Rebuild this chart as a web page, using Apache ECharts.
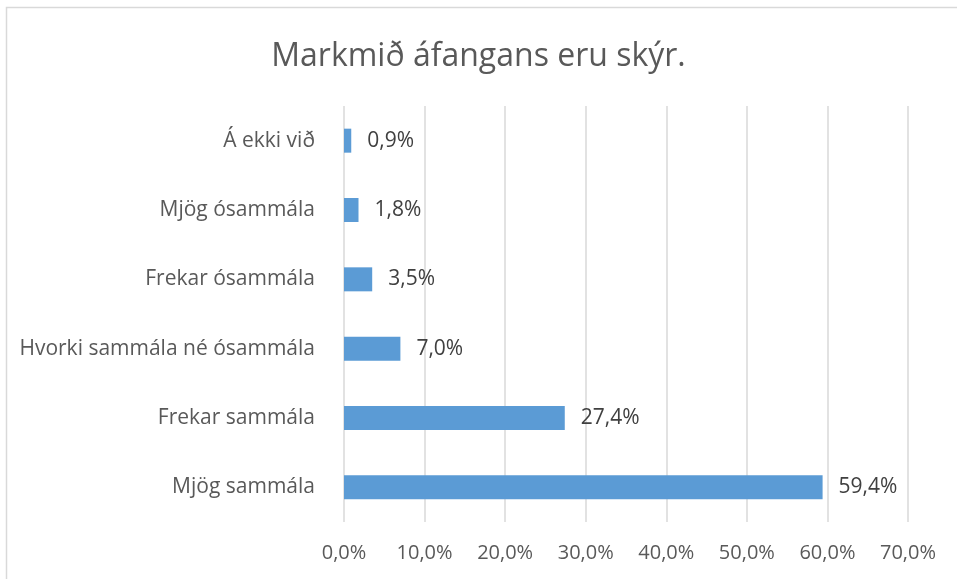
<!DOCTYPE html>
<html>
<head>
<meta charset="utf-8">
<script src="https://cdn.jsdelivr.net/npm/echarts@6/dist/echarts.min.js"></script>
<style>
  html, body { margin: 0; padding: 0; background: #fff; }
  #chart { width: 957px; height: 579px; }
</style>
</head>
<body>
<div id="chart"></div>
<script>
// categories top to bottom, as in the picture
var categories = ['Á ekki við', 'Mjög ósammála', 'Frekar ósammála', 'Hvorki sammála né ósammála', 'Frekar sammála', 'Mjög sammála'];
var percentValues = [0.9, 1.8, 3.5, 7.0, 27.4, 59.4];
var xTicks = [0, 10, 20, 30, 40, 50, 60, 70];

var fontName = 'Open Sans';
var textColor = '#595959';

function pct(v) {
    return v.toFixed(1).replace('.', ',') + '%';
}

var chart = echarts.init(document.getElementById('chart'));
chart.setOption({
    animation: false,
    backgroundColor: '#fff',
    textStyle: { fontFamily: fontName },
    graphic: [{
        type: 'rect',
        shape: { x: 6.5, y: 7.5, width: 960, height: 600 },
        style: { fill: 'none', stroke: '#d9d9d9', lineWidth: 1.5 },
        silent: true
    }],
    title: {
        text: 'Markmið áfangans eru skýr.',
        left: 'center',
        top: 36,
        textStyle: { fontFamily: fontName, fontSize: 32, fontWeight: 'normal', color: textColor }
    },
    grid: { left: 344, right: 49, top: 106, bottom: 57, containLabel: false },
    xAxis: {
        type: 'value',
        min: xTicks[0],
        max: xTicks[xTicks.length - 1],
        interval: 10,
        axisLine: { show: false },
        axisTick: { show: false },
        splitLine: { lineStyle: { color: '#d9d9d9', width: 1.5 } },
        axisLabel: {
            margin: 21,
            fontSize: 20,
            color: textColor,
            formatter: function (v) { return pct(v); }
        }
    },
    yAxis: {
        type: 'category',
        inverse: true,
        data: categories,
        axisLine: { show: false },
        axisTick: { show: false },
        axisLabel: { margin: 29, fontSize: 21, color: textColor }
    },
    series: [{
        type: 'bar',
        data: percentValues,
        barWidth: 24,
        itemStyle: { color: '#5b9bd5' },
        label: {
            show: true,
            position: 'right',
            distance: 16,
            fontSize: 21,
            color: '#404040',
            formatter: function (p) { return pct(p.value); }
        }
    }]
});
</script>
</body>
</html>
